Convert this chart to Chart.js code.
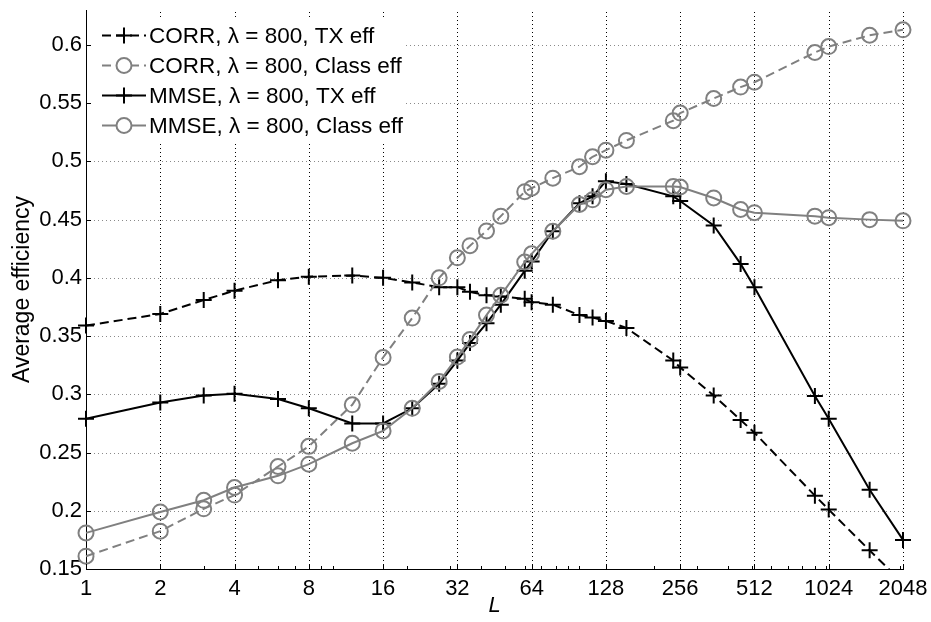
<!DOCTYPE html>
<html>
<head>
<meta charset="utf-8">
<script src="https://cdn.jsdelivr.net/npm/chart.js"></script>
<style>
  html, body { margin: 0; padding: 0; background: #fff; }
  #myChart { display: block; }
</style>
</head>
<body>
<canvas id="myChart" width="931" height="622"></canvas>
<script>
// block length L (x axis, log2)
const lValues = [1, 2, 3, 4, 6, 8, 12, 16, 21, 27, 32, 36, 42, 48, 60, 64, 78, 100, 113, 128, 155, 240, 256, 350, 450, 512, 900, 1024, 1500, 2048];

const corrTx = [0.359, 0.369, 0.381, 0.389, 0.398, 0.401, 0.402, 0.400, 0.396, 0.392, 0.392, 0.388, 0.385, 0.384, 0.382, 0.379, 0.377, 0.368, 0.366, 0.363, 0.357, 0.329, 0.323, 0.299, 0.278, 0.267, 0.213, 0.201, 0.166, 0.138];
const corrClass = [0.161, 0.1825, 0.2017, 0.2135, 0.238, 0.2553, 0.291, 0.3316, 0.3655, 0.400, 0.4172, 0.4276, 0.4403, 0.453, 0.474, 0.477, 0.4856, 0.4954, 0.504, 0.5096, 0.518, 0.535, 0.5415, 0.554, 0.5638, 0.568, 0.5935, 0.5986, 0.6083, 0.613];
const mmseTx = [0.279, 0.293, 0.299, 0.3005, 0.296, 0.288, 0.275, 0.275, 0.288, 0.309, 0.329, 0.344, 0.361, 0.377, 0.406, 0.414, 0.440, 0.464, 0.470, 0.483, 0.4805, 0.470, 0.466, 0.445, 0.412, 0.392, 0.2986, 0.279, 0.218, 0.175];
const mmseClass = [0.181, 0.199, 0.209, 0.220, 0.230, 0.240, 0.258, 0.2686, 0.288, 0.311, 0.332, 0.347, 0.368, 0.385, 0.4136, 0.4206, 0.440, 0.463, 0.467, 0.4757, 0.4785, 0.4785, 0.478, 0.4686, 0.4587, 0.456, 0.453, 0.4517, 0.450, 0.449];

const seriesNames = ["CORR, \u03bb = 800, TX eff", "CORR, \u03bb = 800, Class eff", "MMSE, \u03bb = 800, TX eff", "MMSE, \u03bb = 800, Class eff"];

const xTicks = [1, 2, 4, 8, 16, 32, 64, 128, 256, 512, 1024, 2048];
const xMinorTicks = [3, 5, 6, 7, 9, 10, 20, 30, 40, 50, 60, 70, 80, 90, 100, 200, 300, 400, 500, 600, 700, 800, 900, 1000, 2000];
const yTicks = [0.15, 0.2, 0.25, 0.3, 0.35, 0.4, 0.45, 0.5, 0.55, 0.6];

const GRAY = "#808080";
const FONT = "'Liberation Sans', Arial, Helvetica, sans-serif";

function pairs(ys)
{
    return lValues.map(function(x, i) { return {x: x, y: ys[i]}; });
}

function makeSet(label, ys, color, dashed, marker, order)
{
    return {
        label: label,
        data: pairs(ys),
        borderColor: color,
        borderWidth: 2,
        borderDash: dashed ? [9, 5] : [],
        pointStyle: marker,
        pointRadius: marker == "cross" ? 8 : 7.5,
        pointBorderWidth: 2,
        pointBorderColor: color,
        pointBackgroundColor: "rgba(0,0,0,0)",
        pointHoverRadius: 7.5,
        tension: 0,
        fill: false,
        order: order,
        clip: {left: 12, top: 12, right: 30, bottom: 0}
    };
}

// dotted grid, drawn by hand
const dottedGrid = {
    id: "dottedGrid",
    beforeDatasetsDraw: function(chart) {
        const ctx = chart.ctx;
        const area = chart.chartArea;
        const xs = chart.scales.x;
        const ys = chart.scales.y;
        ctx.save();
        ctx.lineWidth = 1;
        ctx.setLineDash([1, 3]);
        ctx.strokeStyle = "#000";
        ctx.beginPath();
        xTicks.slice(1).forEach(function(v) {
            const px = Math.round(xs.getPixelForValue(v)) + 0.5;
            ctx.moveTo(px, area.bottom);
            ctx.lineTo(px, area.top);
        });
        ctx.stroke();
        ctx.strokeStyle = "#8a8a8a";
        ctx.beginPath();
        yTicks.slice(1).forEach(function(v) {
            const py = Math.round(ys.getPixelForValue(v)) + 0.5;
            ctx.moveTo(area.left, py);
            ctx.lineTo(area.right, py);
        });
        ctx.stroke();
        ctx.restore();
    }
};

// MATLAB-ish ticks pointing into the plot
const innerTicks = {
    id: "innerTicks",
    afterDraw: function(chart) {
        const ctx = chart.ctx;
        const area = chart.chartArea;
        const xs = chart.scales.x;
        const ys = chart.scales.y;
        ctx.save();
        ctx.strokeStyle = "#000";
        ctx.lineWidth = 1;
        ctx.beginPath();
        yTicks.forEach(function(v) {
            const py = Math.round(ys.getPixelForValue(v)) + 0.5;
            ctx.moveTo(area.left, py);
            ctx.lineTo(area.left + 5, py);
        });
        xTicks.forEach(function(v) {
            const px = Math.round(xs.getPixelForValue(v)) + 0.5;
            ctx.moveTo(px, area.bottom);
            ctx.lineTo(px, area.bottom - 5);
        });
        xMinorTicks.forEach(function(v) {
            const px = Math.round(xs.getPixelForValue(v)) + 0.5;
            ctx.moveTo(px, area.bottom);
            ctx.lineTo(px, area.bottom - 3);
        });
        ctx.stroke();
        ctx.restore();
    }
};

// legend drawn inside the axes, top left
const insideLegend = {
    id: "insideLegend",
    afterDatasetsDraw: function(chart) {
        const ctx = chart.ctx;
        const area = chart.chartArea;
        const bx = area.left + 1;
        const by = area.top + 9;
        ctx.save();
        ctx.fillStyle = "#fff";
        ctx.fillRect(bx, by, 318, 122);
        chart.data.datasets.forEach(function(ds, i) {
            const rowY = by + 16.5 + i * 30;
            ctx.strokeStyle = ds.borderColor;
            ctx.lineWidth = 2;
            ctx.setLineDash(ds.borderDash);
            ctx.beginPath();
            ctx.moveTo(bx + 15, rowY);
            ctx.lineTo(bx + 59, rowY);
            ctx.stroke();
            ctx.setLineDash([]);
            const cx = bx + 37;
            ctx.beginPath();
            if (ds.pointStyle == "cross") {
                ctx.moveTo(cx - 8, rowY);
                ctx.lineTo(cx + 8, rowY);
                ctx.moveTo(cx, rowY - 8);
                ctx.lineTo(cx, rowY + 8);
            } else {
                ctx.fillStyle = "#fff";
                ctx.arc(cx, rowY, 7.5, 0, Math.PI * 2);
                ctx.fill();
            }
            ctx.stroke();
            ctx.fillStyle = "#000";
            ctx.font = "22.5px " + FONT;
            ctx.textBaseline = "middle";
            ctx.textAlign = "left";
            ctx.fillText(ds.label, bx + 62, rowY + 1);
        });
        ctx.restore();
    }
};

let canvas = document.getElementById("myChart").getContext("2d");
let myChart = new Chart(canvas, {
    type: "line",
    data: {
        datasets: [
            makeSet(seriesNames[0], corrTx, "#000", true, "cross", 4),
            makeSet(seriesNames[1], corrClass, GRAY, true, "circle", 3),
            makeSet(seriesNames[2], mmseTx, "#000", false, "cross", 2),
            makeSet(seriesNames[3], mmseClass, GRAY, false, "circle", 1)
        ]
    },
    options: {
        responsive: false,
        animation: false,
        devicePixelRatio: 1,
        layout: {padding: {top: 3, right: 28, left: 0, bottom: 0}},
        plugins: {
            legend: {display: false},
            tooltip: {enabled: false}
        },
        scales: {
            x: {
                type: "logarithmic",
                min: 1,
                max: 2048,
                afterBuildTicks: function(scale) {
                    scale.ticks = xTicks.map(function(v) { return {value: v}; });
                },
                afterFit: function(scale) {
                    scale.height = 53;
                    scale.paddingLeft = 0;
                    scale.paddingRight = 0;
                },
                ticks: {
                    autoSkip: false,
                    maxRotation: 0,
                    padding: 7,
                    color: "#000",
                    font: {family: FONT, size: 22},
                    callback: function(v) { return String(v); }
                },
                grid: {display: false, drawTicks: false},
                border: {display: true, color: "#000", width: 1},
                title: {
                    display: true,
                    text: "L",
                    color: "#000",
                    font: {family: FONT, size: 22, style: "italic"},
                    padding: {top: 0, bottom: 3}
                }
            },
            y: {
                min: 0.15,
                max: 0.63,
                afterBuildTicks: function(scale) {
                    scale.ticks = yTicks.map(function(v) { return {value: v}; });
                },
                afterFit: function(scale) {
                    scale.width = 86;
                    scale.paddingTop = 0;
                    scale.paddingBottom = 0;
                },
                ticks: {
                    padding: 4,
                    color: "#000",
                    font: {family: FONT, size: 22},
                    callback: function(v) { return String(Math.round(v * 100) / 100); }
                },
                grid: {display: false, drawTicks: false},
                border: {display: true, color: "#000", width: 1},
                title: {
                    display: true,
                    text: "Average efficiency",
                    color: "#000",
                    font: {family: FONT, size: 23},
                    padding: {top: 9, bottom: 0}
                }
            }
        }
    },
    plugins: [dottedGrid, innerTicks, insideLegend]
});
</script>
</body>
</html>
